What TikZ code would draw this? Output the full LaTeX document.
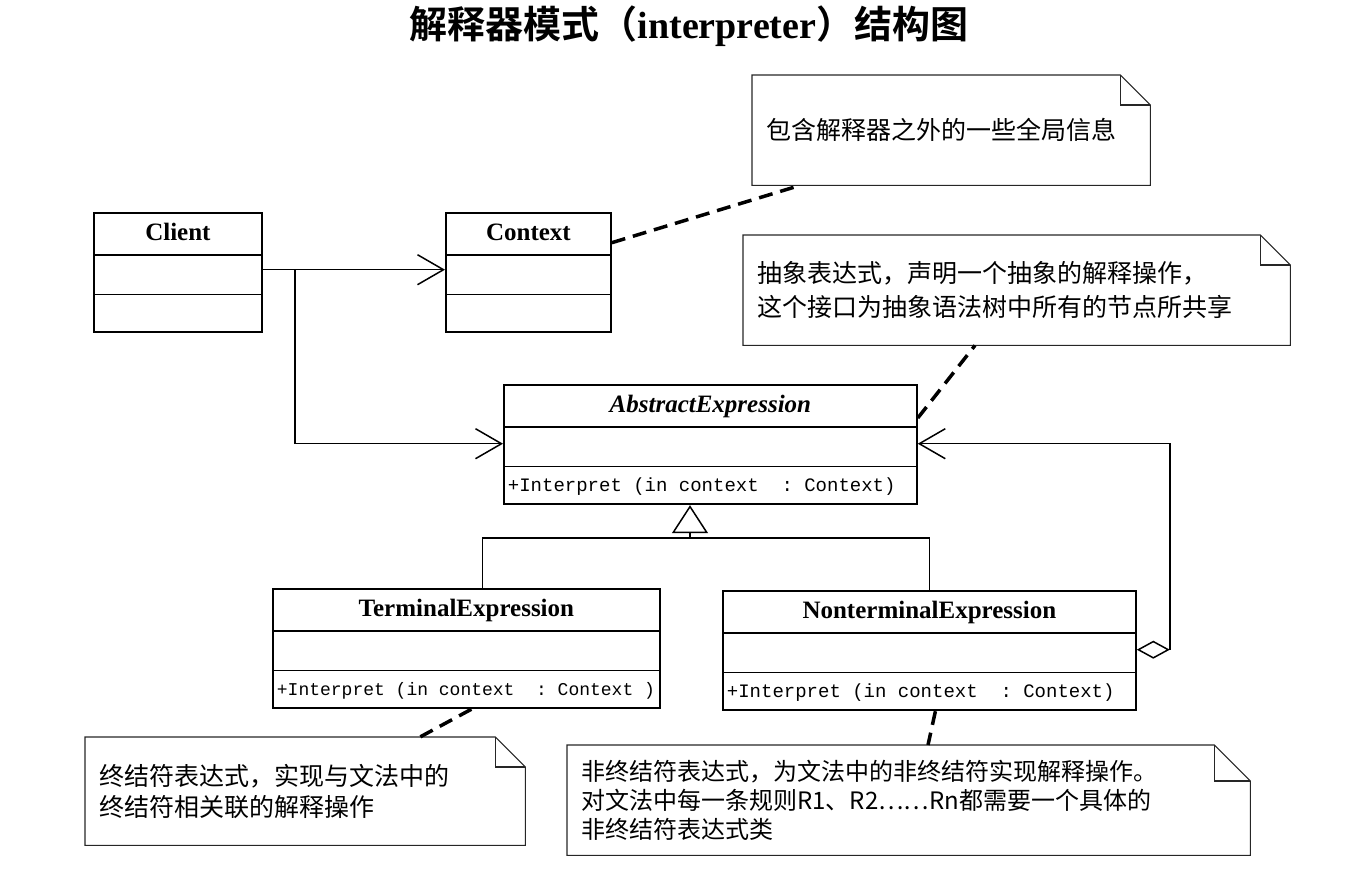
\documentclass[tikz,border=0pt]{standalone}
\usepackage{fontspec}
\setmainfont{Liberation Serif}
\setmonofont{Liberation Mono}
\newfontfamily\cjk{Noto Sans CJK SC}[BoldFont={Noto Sans CJK SC Bold}]
\usetikzlibrary{arrows.meta,positioning,calc,shapes.multipart}

% invisible rule that fixes the height of one compartment
\newcommand{\pstrut}[2]{\vrule width0pt height#1pt depth#2pt\relax}
\newcommand{\umlname}[1]{\pstrut{27}{13}#1}
\newcommand{\umlop}[2][19]{\pstrut{24}{12}{\ttfamily\mdseries\fontsize{#1}{22}\selectfont #2}}

% folded corner round a note
\newcommand{\dogear}[2][30]{%
  \draw[noteline] (#2.north west) -- ([xshift=-#1pt]#2.north east) -- ([yshift=-#1pt]#2.north east)
    -- (#2.south east) -- (#2.south west) -- cycle;
  \draw[noteline] ([xshift=-#1pt]#2.north east) |- ([yshift=-#1pt]#2.north east);}

\begin{document}
\begin{tikzpicture}[
  x=1pt, y=-1pt,
  umlclass/.style={rectangle split, rectangle split parts=3, draw, line width=1.8pt,
    anchor=north west, inner ysep=0pt, inner xsep=4pt,
    rectangle split part align={center,center,left},
    font=\fontsize{25}{28}\selectfont\bfseries},
  note/.style={anchor=north west, inner xsep=14pt, inner ysep=0pt, text width=#1,
    minimum height=110pt, align=left, font=\cjk\fontsize{25}{31}\selectfont},
  noteline/.style={line width=1.1pt, draw=black!85},
  noteedge/.style={line width=3.5pt, dash pattern=on 14pt off 8pt},
  assoc/.style={line width=1.5pt, -{Straight Barb[length=26pt,width=30pt]}},
  gen/.style={line width=1.5pt, -{Triangle[open,length=28pt,width=36pt]}},
  agg/.style={line width=1.5pt, {Diamond[open,length=33pt,width=18pt]}-{Straight Barb[length=26pt,width=30pt]}}
]
\useasboundingbox (0,0) rectangle (1366,892);

% title
\node[font=\fontsize{38}{42}\selectfont\bfseries] (title) at (689,26)
  {{\cjk 解释器模式（}interpreter{\cjk ）结构图}};

% classes
\node[umlclass, minimum width=168pt] (client) at (93,212)
  {\umlname{Client}\nodepart{two}\pstrut{38}{0}\nodepart{three}\pstrut{36}{0}};
\node[umlclass, minimum width=165pt] (context) at (445,212)
  {\umlname{Context}\nodepart{two}\pstrut{38}{0}\nodepart{three}\pstrut{36}{0}};
\node[umlclass, minimum width=413pt] (abstract) at (503,384)
  {\umlname{\itshape AbstractExpression}\nodepart{two}\pstrut{38}{0}%
   \nodepart{three}\umlop{+Interpret (in context~~:~Context)}};
\node[umlclass, minimum width=387pt] (terminal) at (272,588)
  {\umlname{TerminalExpression}\nodepart{two}\pstrut{38}{0}%
   \nodepart{three}\umlop[18]{+Interpret (in context~~:~Context~)}};
\node[umlclass, minimum width=413pt] (nonterm) at (722,590)
  {\umlname{NonterminalExpression}\nodepart{two}\pstrut{38}{0}%
   \nodepart{three}\umlop{+Interpret (in context~~:~Context)}};

% notes
\node[note=370pt] (ctxnote) at (752,75) {包含解释器之外的一些全局信息};
\node[note=519pt, font=\cjk\fontsize{25}{34}\selectfont] (absnote) at (743,235)
  {抽象表达式，声明一个抽象的解释操作，\\这个接口为抽象语法树中所有的节点所共享};
\node[note=412pt, minimum height=108pt] (termnote) at (85,737)
  {终结符表达式，实现与文法中的\\终结符相关联的解释操作};
\node[note=655pt, font=\cjk\fontsize{24}{29}\selectfont] (nontermnote) at (567,745)
  {非终结符表达式，为文法中的非终结符实现解释操作。\\对文法中每一条规则R1、R2……Rn都需要一个具体的\\非终结符表达式类};
\dogear{ctxnote}
\dogear{absnote}
\dogear{termnote}
\dogear[36]{nontermnote}

% relations
\draw[assoc] ([yshift=-15pt]client.text split east) -- ([yshift=-15pt]context.text split west);
\draw[assoc] ([yshift=-15pt]client.text split east) -- ++(32,0) |- ([yshift=-17pt]abstract.text split west);
\coordinate (fork) at (690,538);
\draw[gen] (fork) -- (fork |- abstract.south);
\draw[line width=1.5pt] ([xshift=16pt]terminal.north) |- (fork) -| (nonterm.north);
\draw[agg] ([yshift=-17pt]nonterm.text split east) -- ++(33,0) |- ([yshift=-17pt]abstract.text split east);

% note links
\draw[noteedge] ([yshift=12pt]context.text split east) -- ([xshift=48pt]ctxnote.south west);
\draw[noteedge] ([yshift=-34pt]abstract.north east) -- ([xshift=232pt]absnote.south west);
\draw[noteedge] ([xshift=5pt]terminal.south) -- ([xshift=335pt]termnote.north west);
\draw[noteedge] ([xshift=6pt]nonterm.south) -- ([xshift=361pt]nontermnote.north west);
\end{tikzpicture}
\end{document}
